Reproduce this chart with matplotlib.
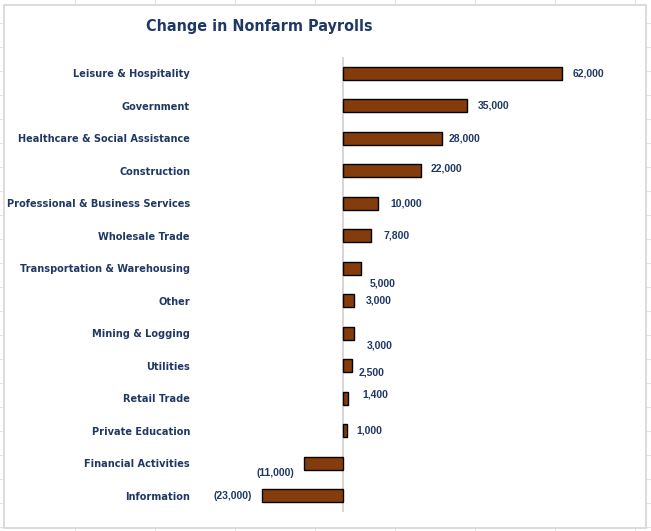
import matplotlib
matplotlib.use("Agg")
import matplotlib.pyplot as plt
from matplotlib import font_manager
from matplotlib.font_manager import FontProperties
from matplotlib.patches import Rectangle

# data
categories = [
    "Leisure & Hospitality", "Government", "Healthcare & Social Assistance",
    "Construction", "Professional & Business Services", "Wholesale Trade",
    "Transportation & Warehousing", "Other", "Mining & Logging", "Utilities",
    "Retail Trade", "Private Education", "Financial Activities", "Information",
]
changes = [62000, 35000, 28000, 22000, 10000, 7800, 5000, 3000, 3000, 2500,
           1400, 1000, -11000, -23000]

# manual label nudges (pixels: right, down), as placed in the original
label_nudge = [(11, 0), (11, 0), (7, 0), (10, -2), (12, 0), (13, 0), (9, 15),
               (12, 0), (13, 12), (7, 7), (14, -4), (10, 0), (-10, 10), (-10, 0)]

NAVY = "#1F3864"
BROWN = "#843C0C"
W, H = 651, 531


def fmt(v):
    return f"{v:,}" if v >= 0 else f"({-v:,})"


def narrow_bold():
    # look for a condensed bold face; fall back to plain Liberation Sans
    for f in font_manager.fontManager.ttflist:
        name = f.name.lower()
        condensed = "narrow" in name or "condensed" in name or \
            str(f.stretch).lower() in ("condensed", "semi-condensed")
        if condensed and f.weight in ("bold", 700, "semibold", 600):
            return f.fname
    return None


def main() -> None:
    nb = narrow_bold()
    if nb:
        cat_font = FontProperties(fname=nb, size=7.8)
        title_font = FontProperties(fname=nb, size=11.5)
    else:
        cat_font = FontProperties(family="Liberation Sans", weight="bold", size=8.1)
        title_font = FontProperties(family="Liberation Sans", weight="bold", size=12.2)

    fig = plt.figure(figsize=(W / 100, H / 100), dpi=100)

    # spreadsheet backdrop + chart frame
    bg = fig.add_axes([0, 0, 1, 1])
    bg.set_xlim(0, W)
    bg.set_ylim(H, 0)
    bg.axis("off")
    for x in range(75, W, 80):
        bg.axvline(x, color="#e3e3e3", lw=0.8, zorder=0)
    for y in range(23, H, 24):
        bg.axhline(y, color="#e3e3e3", lw=0.8, zorder=0)
    bg.add_patch(Rectangle((3.5, 5), 642.5, 522.5, facecolor="white",
                           edgecolor="#d6d6d6", lw=1.2, zorder=1))
    bg.text(259, 27, "Change in Nonfarm Payrolls", ha="center", va="center",
            fontproperties=title_font, color=NAVY, zorder=2)

    # plot area in pixels
    x0, x1, zero_px, top, bottom = 200, 620, 343, 57, 512
    px_per_unit = 219 / 62000
    ax = fig.add_axes([x0 / W, 1 - bottom / H, (x1 - x0) / W, (bottom - top) / H])
    ax.set_xlim(-(zero_px - x0) / px_per_unit, (x1 - zero_px) / px_per_unit)
    ys = list(range(len(categories)))
    ax.set_ylim(len(categories) - 0.5, -0.5)
    ax.patch.set_alpha(0)

    ax.barh(ys, changes, height=0.4, color=BROWN, edgecolor="black", linewidth=1,
            zorder=3)
    ax.axvline(0, color="#cfcfcf", lw=1.2, zorder=2)

    for y, v, (dx, dy) in zip(ys, changes, label_nudge):
        ax.annotate(fmt(v), (v, y), xytext=(dx, -dy), textcoords="offset pixels",
                    ha="left" if v >= 0 else "right", va="center",
                    fontsize=7.5, fontweight="bold", color=NAVY,
                    family="Liberation Sans")

    ax.set_yticks(ys)
    ax.set_yticklabels(categories, fontproperties=cat_font, color=NAVY)
    ax.tick_params(axis="y", length=0, pad=7.2)
    ax.set_xticks([])
    for s in ax.spines.values():
        s.set_visible(False)

    fig.savefig("out.png", dpi=100)


if __name__ == "__main__":
    main()
